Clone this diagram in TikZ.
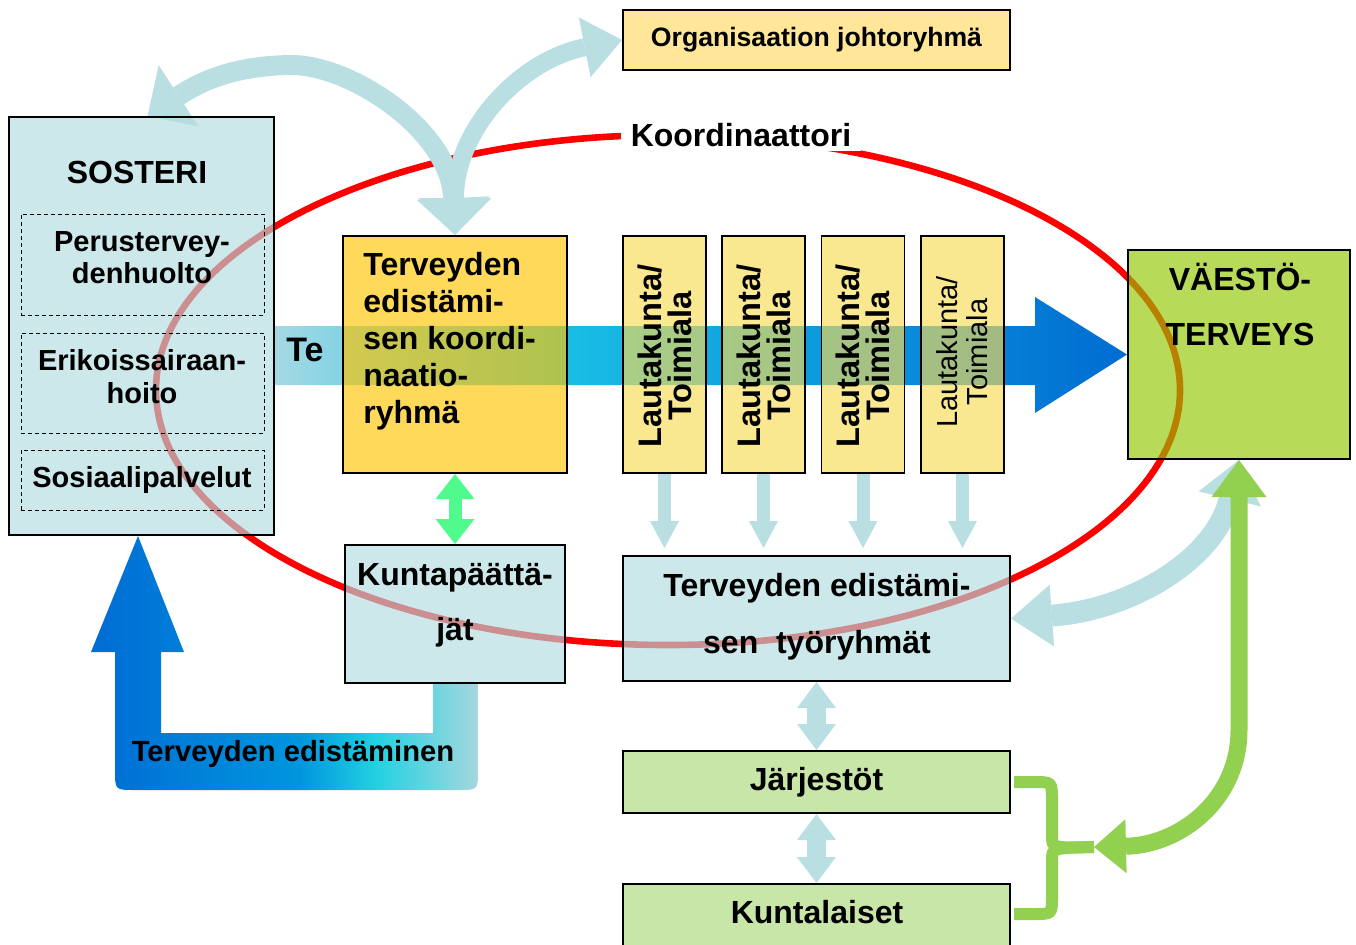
\documentclass[tikz,border=0pt]{standalone}
\usepackage{fontspec}
\setmainfont{Liberation Sans}
\usetikzlibrary{arrows.meta,calc}
\pgfdeclarelayer{bg}
\pgfsetlayers{bg,main}
\definecolor{lbox}{RGB}{178,220,223}
\definecolor{lband}{RGB}{185,223,227}
\definecolor{ybox}{RGB}{255,197,0}
\definecolor{lkbox}{RGB}{248,220,86}
\definecolor{vbox}{RGB}{146,198,0}
\definecolor{orgbox}{RGB}{255,230,153}
\definecolor{gbox}{RGB}{200,230,168}
\definecolor{garrow}{RGB}{146,208,80}
\definecolor{mint}{RGB}{80,250,140}
\definecolor{tl}{RGB}{165,217,228}
\definecolor{tc}{RGB}{25,190,228}
\definecolor{tr}{RGB}{0,108,210}
\definecolor{ub}{RGB}{0,108,212}
\definecolor{um}{RGB}{0,150,222}
\definecolor{uc}{RGB}{35,210,225}
\definecolor{ul}{RGB}{165,215,222}
\pgfdeclarehorizontalshading{teshade}{100bp}{color(0bp)=(tl); color(25bp)=(tl); color(42bp)=(tc); color(75bp)=(tr); color(100bp)=(tr)}
\pgfdeclarehorizontalshading{ushade}{100bp}{color(0bp)=(ub); color(25bp)=(ub); color(52bp)=(um); color(62bp)=(uc); color(75bp)=(ul); color(100bp)=(ul)}
\newcommand\myfs[2]{\fontsize{#1}{#2}\selectfont}
\begin{document}
\begin{tikzpicture}[x=0.5pt,y=-0.5pt,
  box/.style={draw=black, line width=1pt, inner sep=0pt, fill opacity=0.65, text opacity=1},
  dbox/.style={draw=black, dashed, dash pattern=on 2pt off 1.5pt, line width=0.5pt, minimum width=121.5pt, inner sep=0pt},
  lbl/.style={inner sep=0pt, align=center},
  lkb/.style={box, fill=lkbox, line width=0.8pt, minimum width=41.5pt, minimum height=118.5pt},
  tipA/.tip={Triangle[width=36.5pt,length=18.5pt,line width=0pt]},
  tipS/.tip={Triangle[width=14.5pt,length=13.5pt,line width=0pt]},
  tipD/.tip={Triangle[width=19.5pt,length=13pt,line width=0pt]},
  tipG/.tip={Triangle[width=19.5pt,length=12.5pt,line width=0pt]}
]
\useasboundingbox (0,0) rectangle (1356,944);

% ---------- nodes ----------
\node[box, fill=orgbox, fill opacity=1, minimum width=193.5pt, minimum height=30pt,
      font=\bfseries\myfs{13.3}{16}] (org) at (816.5,40) {Organisaation johtoryhmä};

\node[fill=white, inner xsep=5pt, inner ysep=2pt, font=\bfseries\myfs{16}{18}] (koord) at (741,135) {Koordinaattori};

\node[box, fill=lbox, minimum width=132.5pt, minimum height=209pt] (sos) at (141.5,326) {};
\node[lbl, font=\bfseries\myfs{16}{19}] (sost) at (137,172) {SOSTERI};
\node[dbox, minimum height=50.5pt] (pth) at (142.5,264.5) {};
\node[lbl, font=\bfseries\myfs{14.5}{16}] (ptht) at (142,258) {Perustervey-\\denhuolto};
\node[dbox, minimum height=50pt] (esh) at (142.5,383) {};
\node[lbl, font=\bfseries\myfs{14.5}{16.5}] (esht) at (142,377) {Erikoissairaan-\\hoito};
\node[dbox, minimum height=30pt] (sop) at (142.5,480) {};
\node[lbl, font=\bfseries\myfs{14.5}{16}] (sopt) at (142,480) {Sosiaalipalvelut};

\node[box, fill=ybox, minimum width=112pt, minimum height=118.5pt] (yel) at (455,354.5) {};
\node[lbl, anchor=west, align=left, font=\bfseries\myfs{16}{18.5}] (yelt) at (363,341)
  {Terveyden\\edistämi-\\sen koordi-\\naatio-\\ryhmä};

\node[lkb] (lk1) at (664.5,354.5) {};
\node[lkb] (lk2) at (763.5,354.5) {};
\node[lkb] (lk3) at (863,354.5) {};
\node[lkb] (lk4) at (962.5,354.5) {};
\node[lbl, rotate=90, font=\bfseries\myfs{16.3}{15}] (lk1t) at (664.5,356) {Lautakunta/\\Toimiala};
\node[lbl, rotate=90, font=\bfseries\myfs{16.3}{15}] (lk2t) at (763.5,356) {Lautakunta/\\Toimiala};
\node[lbl, rotate=90, font=\bfseries\myfs{16.3}{15}] (lk3t) at (863,356) {Lautakunta/\\Toimiala};
\node[lbl, rotate=90, font=\myfs{14.5}{15}] (lk4t) at (962.5,352) {Lautakunta/\\Toimiala};

\node[box, fill=vbox, minimum width=111pt, minimum height=104.5pt] (vae) at (1239,354.5) {};
\node[lbl, font=\bfseries\myfs{16}{27.5}] (vaet) at (1240,304) {VÄESTÖ-\\TERVEYS};

\node[box, fill=lbox, minimum width=110pt, minimum height=69pt] (kun) at (455,614) {};
\node[lbl, font=\bfseries\myfs{16}{27.5}] (kunt) at (455,605) {Kuntapäättä-\\jät};

\node[box, fill=lbox, minimum width=193.5pt, minimum height=62.5pt] (tyo) at (816.5,618.5) {};
\node[lbl, font=\bfseries\myfs{16}{28.5}] (tyot) at (817,616.5) {Terveyden edistämi-\\sen\ \ työryhmät};

\node[box, fill=gbox, fill opacity=1, minimum width=193.5pt, minimum height=31pt,
      font=\bfseries\myfs{16}{18}] (jar) at (816.5,782) {Järjestöt};
\node[box, fill=gbox, fill opacity=1, minimum width=193.5pt, minimum height=33pt] (kul) at (816.5,917) {};
\node[lbl, font=\bfseries\myfs{16}{18}] (kult) at (817,912) {Kuntalaiset};

\coordinate (brk) at (1094,847);

% ---------- background connectors ----------
\begin{pgfonlayer}{bg}
\draw[red, line width=3.3pt] (668,390) ellipse [x radius=256pt, y radius=127.5pt];

% big horizontal arrow
\shade[shading=teshade] (sos.east) -- (1035,326) -- (1035,297) -- (vae.west) -- (1035,413)
   -- (1035,385) -- (274,385) -- cycle;
\node[lbl, font=\bfseries\myfs{17}{19}] (te) at (305,350) {Te};

% U-arrow
\shade[shading=ushade] (478,683) -- (478,770) .. controls (478,790) .. (458,790) -- (135,790)
   .. controls (115,790) .. (115,770) -- (115,652) -- (91,652) -- (138,536) -- (184,652)
   -- (161,652) -- (161,733) -- (433,733) -- (433,683) -- cycle;
\node[lbl, font=\bfseries\myfs{14.6}{17}] (ute) at (293,754) {Terveyden edistäminen};

% top curved double arrows
\draw[lband, line width=10pt, tipA-tipA] ([xshift=3pt]sos.north)
   .. controls (200,82) and (232,66) .. (290,65)
   .. controls (350,64) and (450,130) .. (yel.north);
\draw[lband, line width=9pt, tipA-{Triangle[width=30.5pt,length=19pt,line width=0pt]}] (yel.north)
   .. controls (455,130) and (520,60) .. (org.west);

% small arrows
\draw[lband, line width=6.5pt, -tipS, shorten >=3.5pt] (lk1.south) -- (lk1.south |- tyo.north);
\draw[lband, line width=6.5pt, -tipS, shorten >=3.5pt] (lk2.south) -- (lk2.south |- tyo.north);
\draw[lband, line width=6.5pt, -tipS, shorten >=3.5pt] (lk3.south) -- (lk3.south |- tyo.north);
\draw[lband, line width=6.5pt, -tipS, shorten >=3.5pt] (lk4.south) -- (lk4.south |- tyo.north);

% vertical double arrows
\draw[lband, line width=9.5pt, tipD-tipD] (tyo.south) -- (jar.north);
\draw[lband, line width=9.5pt, tipD-tipD] (jar.south) -- (kul.north);
\draw[mint, line width=6.5pt, tipG-tipG] (yel.south) -- (kun.north);

% VÄESTÖ <-> työryhmät
\draw[lband, line width=11pt, {Triangle[width=32pt,length=20pt,line width=0pt]}-{Triangle[width=31pt,length=20.5pt,line width=0pt]}]
   (vae.south) .. controls (1215,560) and (1130,610) .. (tyo.east);

% green arrow and bracket
\draw[garrow, line width=8.5pt, {Triangle[width=27.5pt,length=18.5pt,line width=0pt]}-{Triangle[width=27pt,length=16pt,line width=0pt]}]
   (vae.south) -- (1239,730) .. controls (1239,800) and (1180,845) .. (brk);
\draw[garrow, line width=6pt] ([xshift=1.5pt]jar.east) -- (1034,782) .. controls (1052,782) .. (1052,800)
   -- (1052,836) .. controls (1052,848) .. (brk);
\draw[garrow, line width=6pt] (brk) .. controls (1052,848) .. (1052,860) -- (1052,897)
   .. controls (1052,914) .. (1034,914) -- ([xshift=1.5pt]kul.east |- 0,914);
\end{pgfonlayer}
\end{tikzpicture}
\end{document}
